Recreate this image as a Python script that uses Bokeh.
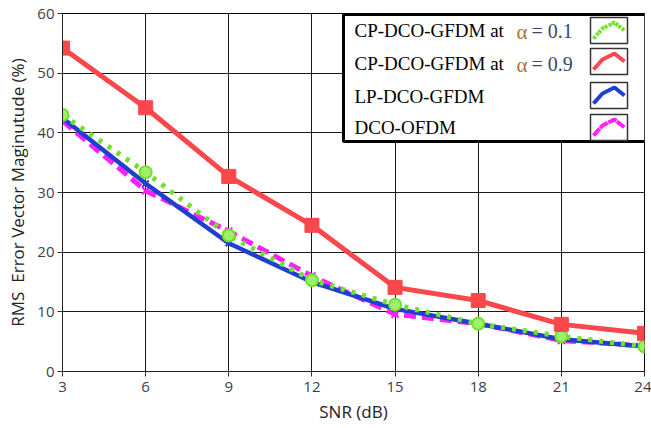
from bokeh.plotting import figure
from bokeh.models import Range1d, FixedTicker, BoxAnnotation, Label, PolyAnnotation
from bokeh.embed import file_html
from bokeh.resources import INLINE

snr = [3, 6, 9, 12, 15, 18, 21, 24]
cp_a01 = [43.0, 33.4, 22.8, 15.3, 11.2, 8.0, 5.9, 4.2]
cp_a09 = [54.2, 44.2, 32.7, 24.5, 14.1, 11.9, 7.9, 6.4]
lp_gfdm = [42.5, 31.5, 21.5, 15.0, 10.5, 8.0, 5.4, 4.2]
dco_ofdm = [42.0, 30.3, 23.5, 16.0, 9.6, 8.0, 5.2, 4.3]
x_ticks = [3, 6, 9, 12, 15, 18, 21, 24]
y_ticks = [0, 10, 20, 30, 40, 50, 60]
legend_names = ["CP-DCO-GFDM at ", "CP-DCO-GFDM at ", "LP-DCO-GFDM", "DCO-OFDM"]
legend_alpha = ["0.1", "0.9", None, None]

GREEN = "#72e02a"
RED = "#f9474b"
BLUE = "#1f3fd2"
MAG = "#ff1fff"

FW, FH = 582, 358
p = figure(frame_width=FW, frame_height=FH, output_backend="svg", toolbar_location=None,
           x_range=Range1d(3, 24), y_range=Range1d(0, 60),
           min_border_left=62, min_border_right=7, min_border_top=13, min_border_bottom=57)

p.outline_line_color = "black"
p.outline_line_width = 1
for g in (p.xgrid, p.ygrid):
    g.grid_line_color = "#1a1a1a"
    g.grid_line_width = 1
p.xaxis.ticker = FixedTicker(ticks=x_ticks)
p.yaxis.ticker = FixedTicker(ticks=y_ticks)
for ax in (p.xaxis, p.yaxis):
    ax.axis_line_color = "#222222"
    ax.major_tick_line_color = "#333333"
    ax.major_tick_out = 5
    ax.major_tick_in = 0
    ax.minor_tick_line_color = None
    ax.major_label_text_font = "Open Sans"
    ax.major_label_text_font_size = "15px"
    ax.major_label_text_color = "#3a3f55"
    ax.axis_label_text_font = "Open Sans"
    ax.axis_label_text_font_size = "17px"
    ax.axis_label_text_font_style = "normal"
    ax.axis_label_text_color = "#222222"
p.xaxis.axis_label = "SNR (dB)"
p.yaxis.axis_label = "RMS\u00a0\u00a0Error Vector Maginutude (%)"
p.xaxis.major_label_standoff = 5
p.yaxis.major_label_standoff = 3
p.xaxis.axis_label_standoff = 5
p.yaxis.axis_label_standoff = 5

# series
p.line(snr, dco_ofdm, line_color=MAG, line_width=5, line_dash="12 6")
p.scatter(snr, dco_ofdm, marker="x", size=10, line_color=MAG, line_width=2)
p.line(snr, lp_gfdm, line_color=BLUE, line_width=4.5)
p.scatter(snr, lp_gfdm, marker="x", size=9, line_color=BLUE, line_width=2)
p.line(snr, cp_a01, line_color=GREEN, line_width=5, line_dash="4 7")
p.scatter(snr, cp_a01, marker="circle", size=12, line_color=GREEN, fill_color="#9ef06a", line_width=2)
p.line(snr, cp_a09, line_color=RED, line_width=5)
p.scatter(snr, cp_a09, marker="square", size=14, line_color=RED, fill_color=RED)

# legend (pixel positions relative to the screenshot)
X0, Y0 = 62.0, 371.0
def xd(px):
    return 3 + (px - X0) * 21.0 / FW
def yd(py):
    return (Y0 - py) * 60.0 / FH

p.add_layout(BoxAnnotation(left=xd(343), right=xd(645), top=yd(14), bottom=yd(141),
                           fill_color="white", fill_alpha=1.0,
                           line_color="black", line_alpha=1.0, line_width=3))

row_mid = [30, 63, 96, 127]
for i, name in enumerate(legend_names):
    lbl = Label(x=xd(354), y=yd(row_mid[i]), text=name, text_font="Liberation Serif",
                text_font_size="19px", text_color="black", text_baseline="middle",
                text_align="left")
    p.add_layout(lbl)
    if legend_alpha[i] is not None:
        p.add_layout(Label(x=xd(516), y=yd(row_mid[i] + 1), text="\u03b1",
                           text_font="Liberation Serif", text_font_size="21px",
                           text_color="#a8743c", text_baseline="middle"))
        p.add_layout(Label(x=xd(531), y=yd(row_mid[i]), text="= " + legend_alpha[i],
                           text_font="Liberation Serif", text_font_size="20px",
                           text_color="#3b4868", text_baseline="middle"))

sw_top = [17, 48, 82, 114]
sw_col = [GREEN, RED, BLUE, MAG]
sw_dash = ["3 5", "solid", "solid", "6 4"]
for i in range(4):
    t = sw_top[i]
    b = t + 26
    p.add_layout(BoxAnnotation(left=xd(590), right=xd(627), top=yd(t), bottom=yd(b),
                               fill_color="white", fill_alpha=1.0,
                               line_color="#333333", line_alpha=1.0, line_width=1.5))
    px = [593, 602, 614, 624]
    py = [b - 5, t + 11, t + 5, t + 13]
    xs = [xd(v) for v in px] + [xd(v) for v in reversed(px)]
    ys = [yd(v) for v in py] + [yd(v) for v in reversed(py)]
    p.add_layout(PolyAnnotation(xs=xs, ys=ys, fill_alpha=0, line_color=sw_col[i],
                                line_alpha=1.0, line_width=4, line_dash=sw_dash[i]))

open("out.html", "w").write(file_html(p, INLINE))
